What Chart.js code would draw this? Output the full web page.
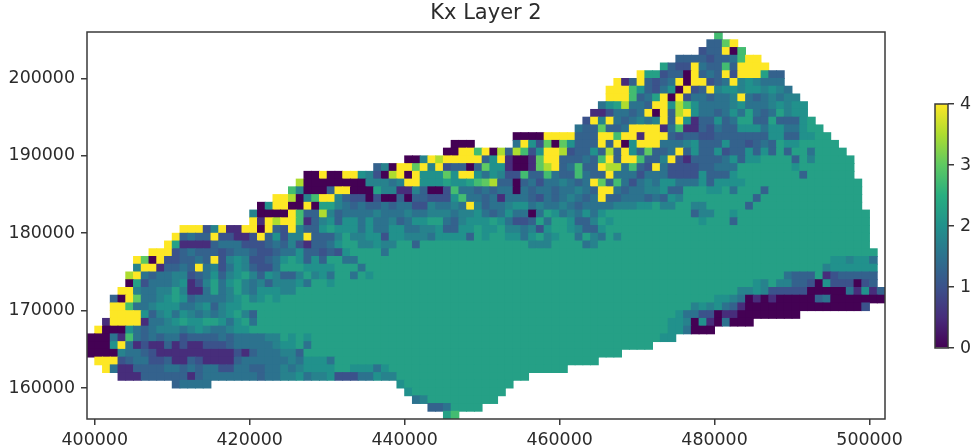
<!DOCTYPE html>
<html>
<head>
<meta charset="utf-8">
<title>Kx Layer 2</title>
<script src="https://cdn.jsdelivr.net/npm/chart.js@4"></script>
<style>
html,body{margin:0;padding:0;background:#fff;}
#wrap{position:relative;width:980px;height:447px;overflow:hidden;}
#map{position:absolute;left:0;top:0;filter:blur(0.45px);}
#bar{position:absolute;left:900px;top:80px;filter:blur(0.45px);}
</style>
</head>
<body>
<div id="wrap">
<canvas id="map" width="980" height="447"></canvas>
<canvas id="bar" width="80" height="300"></canvas>
</div>
<script>
const chartTitle = "Kx Layer 2";
const xTicks = [400000,420000,440000,460000,480000,500000];
const yTicks = [160000,170000,180000,190000,200000];
const barTicks = [0,1,2,3,4];
const cellSize = 1000;
const firstColX = 399000;
const topRowY = 206000;
const levels = {a:0,b:0.5,c:1,d:1.25,e:1.5,f:1.75,g:2,h:2.25,j:2.75,i:3,k:3.5,l:4};
const viridisStops = ["#440154","#472d7b","#3b528b","#2c728e","#21918c","#28ae80","#5ec962","#addc30","#fde725"];

// Columns covered by each row of the model grid (top row first)
const rowSpans = [
[[81,81]],[[80,83]],[[79,84]],[[76,86]],[[74,87]],[[71,89]],[[68,89]],[[67,90]],[[67,91]],[[66,92]],
[[65,92]],[[64,93]],[[63,94]],[[55,95]],[[47,49],[55,96]],[[46,97]],[[41,98]],[[37,98]],[[28,98]],[[27,99]],
[[26,99]],[[24,99]],[[22,99]],[[21,100]],[[21,100]],[[12,100]],[[11,100]],[[10,100]],[[8,101]],[[6,101]],
[[6,101]],[[5,101]],[[5,101]],[[4,102]],[[3,102]],[[3,100]],[[3,91]],[[2,85]],[[1,80]],[[0,75]],
[[0,72]],[[0,68]],[[1,65]],[[2,61]],[[4,56]],[[11,15],[40,54]],[[41,53]],[[42,52]],[[44,50]],[[46,47]]
];

// Cell values per row: @n = grid column, letter = level, remaining cells are level h
const rowCells = [
"@81 j",
"@80 ddil",
"@79 cddlaj",
"@76 ddddcddejll",
"@74 hdcc l edd j d llll",
"@71 l hh cdd a l ded l c lll h dd",
"@68 l b d l dcde l a ll cde l fgfeee",
"@67 lll j g dce g a l cd l fggfggfgfe",
"@67 lll j de h l a l ceedeef l edefeff",
"@66 e gh k eed ll g k j g eeee f g eee f g f gg",
"@65 bbc eede l a l d k l g eedeg e h e d e h f gg",
"@64 c l f l edefef l d l g b dd g d e hh dd h ddd g h",
"@63 e dd i dd e llll b e j bb d c e dd ggg e gg ee g hh",
"@55 aaaa llll ddd ll j ll b lll d c dd cc ddddddd gg dd gg hh",
"@47 aaa @55 e l g c i a i g ddd l d l a g lll eee f g ddd g dd c d e d h gg",
"@46 aa ll j l a k d k j c g ll k c dd g d k d l g d i dd e l d g dd g c dd g d g d h d hh e",
"@41 aa f l k lllll d g l b aa b i ll ddd e d j l d ll j dd f l c b dddd e g d gg @91 d h f",
"@37 d f a ll i l f l c dd a d i gg b aa b i k l d e j dd l kk e j d c l e cccc dd eee @91 g",
"@28 aa l aa ll g f c a k l a l ggg i g ll g e g f cc j dd j e dd j e dd l eee c eee cccc g ddd g @92 d",
"@27 k aaaaaaaa fff e f ll ggg h gg h j i k dd a d e c ee f e d e l i d j e c e f e gg eee g d gggg",
"@26 j f aaa d ll aaa h ff bb f d aa c j ee d e d ee a e d ee d ee f e d ll e d ee ff g dd @80 gg @83 e @87 d",
"@24 ll k a f j ll f d cc a c aa d a dd ccc g j ee d e b eee d c e d e f e d e l dd eee d e d g f @86 d",
"@22 a g ll aa l a hh f e d e dd e d ee cc f ee f e l f d ee f gg e f ee f e d eeee fff gg h ff @78 ff @85 d",
"@21 f aaaa l j dd k f d eeee f eee f ee fff e ff g e d e g ee a e h g e f e g e g @78 d ff @83 g",
"@21 l b l k ll j b d f g d gg e g ee f d e gg hh e d f ggg h g e cc d h e hh g dd f h g @79 g @83 d",
"@12 lll c f l bb ll a l d c l f dd g h ggg e g ee gg ee ff g dd gg h gg @54 ff e f c g hh g f dd g",
"@11 l d e dd l cc bb c l d g c ff l ddd f h ff gg c gg fff e gggg d h g @54 gg e g h f g hh e h f e h f",
"@10 l h bbbb d eee ccc d e d f c b dd e g hh ff g ff hh d @57 fff @64 e f",
"@8 lll c d e ddd c d ee d cc d ee g dd c d c g @38 e",
"@6 l i a l cc dd e d l c f g f cc d e g h g d g d hh ee @96 gg f gg e",
"@6 f ll b dd e d l e f c e g f d cc e hhh gggg @35 e @95 f gggggg",
"@5 k l e d ee ff c d e g d f g h f d g f dd f h f g e hh e h g @90 e ddd h b c ddddd",
"@5 a h c eee f g b c f h e g h f e f d fff g e hh g @86 g f h ff dd c a g ccc a c d",
"@4 ll f ee ff h f bb e h e f h f e ggg ff @84 ff g f ccccc aaaaa e b g b d",
"@3 d a l i ee f g h g d eeee f g h f g h g @81 gg f e a b a b aaaaa d e aaaaaaa",
"@3 ll j ee f ggg ee f g d f gg @78 f g f g e d b a15 c",
"@3 llll g d f g e g f e f e f g h f d @76 g ee cc a bb a a7",
"@2 b llll b ee f g h gg hh g e g h e @75 gg f a g b a e aaa",
"@1 l aaa g e d e fff e f g f ee f gg @75 gg e aaa",
"@0 aaa e b j e d e d ee c dddd e d eeee ff h g h g @74 gg",
"@0 aaa g l e b c bb d b c bb ccc d eeeee f gg h e",
"@0 aaaa f ee d c b10 c b d eee ff d",
"@1 lll c d ee cc d bb d c bbbb d eeeeee f e ggg e",
"@2 l e bb dddd ee d e d ee cc ee dd ee f e f gggg hh ggg e g",
"@4 bbb dddddd b d eeeeeee d ee ff g e ff g ccc ee g ff",
"@11 d eeee @40 g",
"@41 g",
"@42 e f",
"@44 dd e",
"@46 h j"
];

function decodeRow(r){
  const cells = {};
  rowSpans[r].forEach(([a,b])=>{ for(let c=a;c<=b;c++) cells[c]="h"; });
  let col = 0;
  const re = /@(\d+)|([a-l])(\d*)/g;
  let m;
  while((m = re.exec(rowCells[r]))){
    if(m[1]!==undefined){ col = +m[1]; continue; }
    const n = m[3] ? +m[3] : 1;
    for(let k=0;k<n;k++){ if(cells[col]!==undefined) cells[col]=m[2]; col++; }
  }
  return cells;
}
const points = [];
rowCells.forEach((_,r)=>{
  const cells = decodeRow(r);
  Object.keys(cells).forEach(c=>{
    points.push({x:firstColX+(+c+0.5)*cellSize, y:topRowY-(r+0.5)*cellSize, v:levels[cells[c]]});
  });
});

function hex(h){ return [1,3,5].map(i=>parseInt(h.substr(i,2),16)); }
function viridis(t){
  const s = Math.min(Math.max(t,0),1)*(viridisStops.length-1);
  const i = Math.min(Math.floor(s),viridisStops.length-2), f = s-i;
  const a = hex(viridisStops[i]), b = hex(viridisStops[i+1]);
  return "rgb("+a.map((v,k)=>Math.round(v+(b[k]-v)*f)).join(",")+")";
}

const FONT = "'DejaVu Sans'";
const INK = "#2b2b2b";
const frame = {
  id:"frame",
  afterDatasetsDraw(chart){
    const a = chart.chartArea, ctx = chart.ctx;
    ctx.save();
    ctx.strokeStyle = "#3a3a3a";
    ctx.lineWidth = 1.5;
    ctx.strokeRect(a.left,a.top,a.right-a.left,a.bottom-a.top);
    ctx.restore();
  }
};

new Chart(document.getElementById("map"),{
  type:"scatter",
  data:{datasets:[{
    data:points,
    pointStyle:"rect",
    pointRadius:6.1,
    pointBorderWidth:0,
    borderWidth:0,
    backgroundColor:ctx=>ctx.raw?viridis(ctx.raw.v/4):"#000"
  }]},
  plugins:[frame],
  options:{
    responsive:false,
    animation:false,
    events:[],
    layout:{padding:{left:0,right:95,top:0,bottom:0}},
    plugins:{
      legend:{display:false},
      tooltip:{enabled:false},
      title:{display:true,text:chartTitle,fullSize:false,color:INK,
        font:{family:FONT,size:21,weight:"normal",lineHeight:1.2},
        padding:{top:1,bottom:5.8}}
    },
    scales:{
      x:{type:"linear",min:399000,max:502000,
        afterFit:s=>{s.height=28;},
        afterBuildTicks:s=>{s.ticks=xTicks.map(v=>({value:v}));},
        border:{display:false},
        grid:{drawOnChartArea:false,tickLength:6,color:"#3a3a3a",lineWidth:1.5},
        ticks:{color:INK,font:{family:FONT,size:17.4},padding:5,maxRotation:0,autoSkip:false,includeBounds:false,callback:v=>String(v)}},
      y:{type:"linear",min:156000,max:206000,
        afterFit:s=>{s.width=87;},
        afterBuildTicks:s=>{s.ticks=yTicks.map(v=>({value:v}));},
        border:{display:false},
        grid:{drawOnChartArea:false,tickLength:6,color:"#3a3a3a",lineWidth:1.5},
        ticks:{color:INK,font:{family:FONT,size:17.4},padding:6,autoSkip:false,includeBounds:false,callback:v=>String(v)}}
    }
  }
});

new Chart(document.getElementById("bar"),{
  type:"bar",
  data:{labels:["Kx"],datasets:[{
    data:[[barTicks[0],barTicks[barTicks.length-1]]],
    barPercentage:1,categoryPercentage:1,borderWidth:0,
    backgroundColor:ctx=>{
      const a = ctx.chart.chartArea;
      if(!a) return viridisStops[4];
      const g = ctx.chart.ctx.createLinearGradient(0,a.bottom,0,a.top);
      viridisStops.forEach((c,i)=>g.addColorStop(i/(viridisStops.length-1),c));
      return g;
    }
  }]},
  plugins:[frame],
  options:{
    responsive:false,
    animation:false,
    events:[],
    layout:{padding:{left:35,right:0,top:24,bottom:32}},
    plugins:{legend:{display:false},tooltip:{enabled:false},title:{display:false}},
    scales:{
      x:{display:false},
      y:{type:"linear",position:"right",min:0,max:4,
        afterFit:s=>{s.width=32;},
        afterBuildTicks:s=>{s.ticks=barTicks.map(v=>({value:v}));},
        border:{display:false},
        grid:{drawOnChartArea:false,tickLength:6,color:"#3a3a3a",lineWidth:1.5},
        ticks:{color:INK,font:{family:FONT,size:17.4},padding:6,callback:v=>String(v)}}
    }
  }
});
</script>
</body>
</html>
